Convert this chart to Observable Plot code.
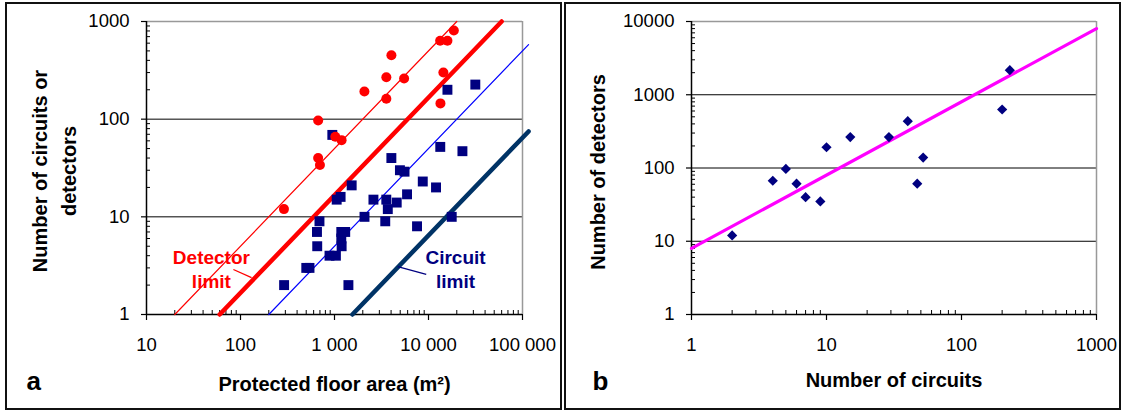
<!DOCTYPE html>
<html><head><meta charset="utf-8">
<script src="https://cdn.jsdelivr.net/npm/d3@7"></script>
<script src="https://cdn.jsdelivr.net/npm/@observablehq/plot@0.6"></script>
<style>
html,body{margin:0;padding:0;background:#fff;}
#wrap{position:relative;width:1123px;height:412px;overflow:hidden;}
.frame{position:absolute;border:2px solid #111;box-sizing:border-box;pointer-events:none;}
.panel{position:absolute;top:4px;}
</style></head><body>
<div id="wrap"></div>
<script>
// ---------- data (panel a) ----------
const detAreas  = [290, 670, 670, 700, 1020, 1190, 2080, 3560, 3560, 4030, 5500, 13300, 15900, 18600, 14400, 13400];
const detCounts = [12, 97, 40, 34, 66, 61, 192, 162, 269, 452, 261, 634, 634, 809, 300, 145];
const cirAreas  = [948, 291, 501, 542, 651, 692, 655, 885, 1035, 1055, 1161, 1181, 1300, 1181, 1191, 1406, 1523, 2085, 2596, 3557, 3467, 3690, 4027, 4590, 4966, 5560, 5914, 7550, 8690, 12020, 13340, 15900, 17660, 22960, 31480];
const cirCounts = [69, 2, 3, 3, 7, 9, 5, 4, 4, 15, 16, 7, 7, 6, 5, 2, 21, 10, 15, 15, 9, 12, 40, 14, 30, 29, 17, 8, 23, 20, 52, 200, 10, 47, 226];
// reference lines: count = area / areaPerUnit
const limitNames       = ["Detector fit", "Detector limit", "Circuit fit", "Circuit limit"];
const limitAreaPerUnit = [20, 60, 200, 1550];
const limitEndArea     = [20000, 60000, 116000, 116000];
const limitColors      = ["#ff0000", "#ff0000", "#0000ff", "#003366"];
const limitWidths      = [1.2, 4.5, 1.2, 4.5];
// annotations
const noteTexts  = ["Detector\nlimit", "Circuit\nlimit"];
const noteColors = ["#ff0000", "#000080"];
const noteX      = [49, 19400];
const noteY      = [2.96, 2.96];
const leaderX1   = [84, 4710];
const leaderY1   = [2.89, 3.10];
const leaderX2   = [131, 9460];
const leaderY2   = [2.39, 2.57];
const aXTicks      = [10, 100, 1000, 10000, 100000];
const aXTickLabels = ["10", "100", "1 000", "10 000", "100 000"];
const aYTicks      = [1, 10, 100, 1000];
const aYTickLabels = ["1", "10", "100", "1000"];

// ---------- data (panel b) ----------
const bCircuits  = [2, 4, 5, 6, 7, 9, 10, 15, 29, 40, 47, 52, 200, 228];
const bDetectors = [12, 67, 97, 61, 40, 35, 192, 264, 264, 436, 61, 139, 629, 2167];
const fitDetectorsPerCircuit = 8;
const fitCircuitRange = [1, 1000];
const bXTicks      = [1, 10, 100, 1000];
const bXTickLabels = ["1", "10", "100", "1000"];
const bYTicks      = [1, 10, 100, 1000, 10000];
const bYTickLabels = ["1", "10", "100", "1000", "10000"];

// ---------- helpers ----------
const FONT = '"Liberation Sans", Arial, Helvetica, sans-serif';
function minors(lo, hi) {
  const out = [];
  for (let d = lo; d < hi; d *= 10) for (let m = 2; m <= 9; m++) out.push(d * m);
  return out;
}
function axisMarks(xT, xL, yT, yL, xDom, yDom) {
  return [
    Plot.axisX(minors(xDom[0], xDom[1]), {anchor: "bottom", tickSize: -4, tickFormat: () => "", label: null, strokeWidth: 1}),
    Plot.axisY(minors(yDom[0], yDom[1]), {anchor: "left", tickSize: -4, tickFormat: () => "", label: null, strokeWidth: 1}),
    Plot.axisX(xT, {anchor: "bottom", tickSize: 6, tickPadding: 17, tickFormat: d => xL[xT.indexOf(d)], label: null, fontSize: 18.5, strokeWidth: 1.2, fill: "#000"}),
    Plot.axisY(yT, {anchor: "left", tickSize: 5, tickPadding: 12, tickFormat: d => yL[yT.indexOf(d)], label: null, fontSize: 18.5, strokeWidth: 1.2, fill: "#000"}),
    Plot.ruleX([xDom[0]], {stroke: "#000", strokeWidth: 1.5}),
    Plot.ruleY([yDom[0]], {stroke: "#000", strokeWidth: 1.5})
  ];
}
const titleOpts = {fontSize: 20, fontWeight: "bold", fill: "#000", textAnchor: "middle", lineAnchor: "middle"};

// ---------- panel a ----------
const dets = detAreas.map((a, i) => ({area: a, n: detCounts[i]}));
const cirs = cirAreas.map((a, i) => ({area: a, n: cirCounts[i]}));
const limitLines = limitNames.map((name, i) => [
  {area: limitAreaPerUnit[i], n: 1},
  {area: limitEndArea[i], n: limitEndArea[i] / limitAreaPerUnit[i]}
]);
const notes = noteTexts.map((t, i) => ({t, x: noteX[i], y: noteY[i], c: noteColors[i]}));
const leaders = noteTexts.map((t, i) => ({x1: leaderX1[i], y1: leaderY1[i], x2: leaderX2[i], y2: leaderY2[i], c: noteColors[i]}));

const plotA = Plot.plot({
  width: 553, height: 404,
  marginLeft: 139, marginRight: 38, marginTop: 17, marginBottom: 94,
  style: {fontFamily: FONT, background: "transparent", overflow: "visible", color: "#000"},
  x: {type: "log", domain: [10, 100000], axis: null},
  y: {type: "log", domain: [1, 1000], axis: null},
  marks: [
    Plot.ruleY([10, 100], {stroke: "#000", strokeWidth: 1}),
    Plot.ruleY([1000], {stroke: "#999", strokeWidth: 1.5}),
    Plot.ruleX([100000], {stroke: "#999", strokeWidth: 1.5}),
    ...axisMarks(aXTicks, aXTickLabels, aYTicks, aYTickLabels, [10, 100000], [1, 1000]),
    ...limitLines.map((pts, i) => Plot.line(pts, {x: "area", y: "n", stroke: limitColors[i], strokeWidth: limitWidths[i]})),
    Plot.link(leaders, {x1: "x1", y1: "y1", x2: "x2", y2: "y2", stroke: "c", strokeWidth: 1.3}),
    Plot.dot(cirs, {x: "area", y: "n", symbol: "square", r: 5.6, fill: "#000080"}),
    Plot.dot(dets, {x: "area", y: "n", r: 5, fill: "#ff0000"}),
    Plot.text(notes, {x: "x", y: "y", text: "t", fill: "c", fontSize: 19, fontWeight: "bold", lineHeight: 1.26}),
    Plot.text(["Number of circuits or\ndetectors"], {...titleOpts, frameAnchor: "left", dx: -94, dy: 3, rotate: -90, lineHeight: 1.42}),
    Plot.text(["Protected floor area (m²)"], {...titleOpts, frameAnchor: "bottom", dy: 70}),
    Plot.text(["a"], {frameAnchor: "bottom-left", dx: -120, dy: 67, fontSize: 26, fontWeight: "bold", fill: "#000", textAnchor: "start", lineAnchor: "middle"})
  ]
});

// ---------- panel b ----------
const bPts = bCircuits.map((c, i) => ({c, d: bDetectors[i]}));
const fitLine = fitCircuitRange.map(c => ({c, d: c * fitDetectorsPerCircuit}));

const plotB = Plot.plot({
  width: 553, height: 404,
  marginLeft: 125, marginRight: 23, marginTop: 17, marginBottom: 94,
  style: {fontFamily: FONT, background: "transparent", overflow: "visible", color: "#000"},
  x: {type: "log", domain: [1, 1000], axis: null},
  y: {type: "log", domain: [1, 10000], axis: null},
  marks: [
    Plot.ruleY([10, 100, 1000], {stroke: "#000", strokeWidth: 1}),
    Plot.ruleY([10000], {stroke: "#999", strokeWidth: 1.5}),
    Plot.ruleX([1000], {stroke: "#999", strokeWidth: 1.5}),
    ...axisMarks(bXTicks, bXTickLabels, bYTicks, bYTickLabels, [1, 1000], [1, 10000]),
    Plot.line(fitLine, {x: "c", y: "d", stroke: "#ff00ff", strokeWidth: 3.2}),
    Plot.dot(bPts, {x: "c", y: "d", symbol: "diamond2", r: 4.6, fill: "#000080"}),
    Plot.text(["Number of detectors"], {...titleOpts, frameAnchor: "left", dx: -93, dy: 4, rotate: -90}),
    Plot.text(["Number of circuits"], {...titleOpts, frameAnchor: "bottom", dy: 66}),
    Plot.text(["b"], {frameAnchor: "bottom-left", dx: -99, dy: 67, fontSize: 26, fontWeight: "bold", fill: "#000", textAnchor: "start", lineAnchor: "middle"})
  ]
});

// ---------- layout ----------
const wrap = document.getElementById("wrap");
function place(node, left) {
  node.classList.add("panel");
  node.style.left = left + "px";
  wrap.appendChild(node);
}
place(plotA, 7);
place(plotB, 566);
[[5, 557], [564, 557]].forEach(([l, w]) => {
  const f = document.createElement("div");
  f.className = "frame";
  f.style.left = l + "px"; f.style.top = "2px";
  f.style.width = w + "px"; f.style.height = "408px";
  wrap.appendChild(f);
});
</script>
</body></html>
